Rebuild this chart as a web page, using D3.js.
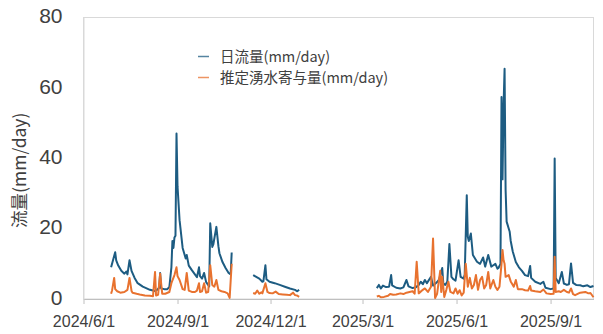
<!DOCTYPE html>
<html><head><meta charset="utf-8">
<script src="https://cdn.jsdelivr.net/npm/d3@7"></script>
<style>body{margin:0;background:#fff} svg{display:block}</style>
</head><body><svg id="c" width="603" height="334"></svg>
<script>
const flowDates = ["2024-06-28","2024-07-02","2024-07-03","2024-07-05","2024-07-08","2024-07-11","2024-07-13","2024-07-14","2024-07-16","2024-07-18","2024-07-21","2024-07-24","2024-07-29","2024-08-05","2024-08-10","2024-08-12","2024-08-14","2024-08-15","2024-08-16","2024-08-19","2024-08-22","2024-08-24","2024-08-26","2024-08-27","2024-08-28","2024-08-29","2024-08-30","2024-08-31","2024-09-01","2024-09-03","2024-09-06","2024-09-09","2024-09-10","2024-09-12","2024-09-15","2024-09-18","2024-09-20","2024-09-22","2024-09-23","2024-09-25","2024-09-27","2024-09-29","2024-10-02","2024-10-03","2024-10-05","2024-10-06","2024-10-09","2024-10-11","2024-10-12","2024-10-15","2024-10-18","2024-10-21","2024-10-23","2024-10-24","2024-10-25",
"2024-11-14","2024-11-17","2024-11-20","2024-11-23","2024-11-24","2024-11-26","2024-11-27","2024-11-30","2024-12-05","2024-12-10","2024-12-15","2024-12-20","2024-12-25","2024-12-27","2024-12-29","2024-12-30",
"2025-03-15","2025-03-17","2025-03-19","2025-03-21","2025-03-24","2025-03-27","2025-03-29","2025-03-30","2025-04-03","2025-04-07","2025-04-10","2025-04-13","2025-04-15","2025-04-19","2025-04-22","2025-04-25","2025-04-27","2025-04-29","2025-05-01","2025-05-03","2025-05-07","2025-05-09","2025-05-13","2025-05-15","2025-05-18","2025-05-19","2025-05-21","2025-05-23","2025-05-25","2025-05-27","2025-05-29","2025-05-31","2025-06-03","2025-06-05","2025-06-08","2025-06-09","2025-06-11","2025-06-12","2025-06-13","2025-06-15","2025-06-17","2025-06-21","2025-06-24","2025-06-27","2025-06-29","2025-07-02","2025-07-05","2025-07-07","2025-07-09","2025-07-11","2025-07-12","2025-07-14","2025-07-15","2025-07-16","2025-07-17","2025-07-18","2025-07-19","2025-07-20","2025-07-23","2025-07-24","2025-07-26","2025-07-29","2025-08-01","2025-08-04","2025-08-07","2025-08-10","2025-08-12","2025-08-13","2025-08-17","2025-08-22","2025-08-25","2025-08-27","2025-09-01","2025-09-04","2025-09-05","2025-09-06","2025-09-09","2025-09-12","2025-09-14","2025-09-17","2025-09-19","2025-09-21","2025-09-23","2025-09-26","2025-09-30","2025-10-03","2025-10-07","2025-10-10","2025-10-13"];
const flowValues = [9.0,13.3,11.0,9.5,8.0,7.2,7.8,7.0,11.0,8.0,6.0,4.5,3.5,2.6,2.3,2.6,3.2,7.4,3.0,2.8,2.8,3.4,9.0,16.5,14.5,17.5,18.0,47.0,32.0,22.4,14.5,11.5,12.5,9.5,8.2,7.0,6.2,9.0,6.5,5.8,7.4,4.8,3.6,21.5,14.8,15.5,20.5,15.0,13.0,10.5,8.8,7.4,7.0,13.2,null,
6.8,6.3,5.8,4.9,5.0,9.6,5.6,4.9,4.5,4.0,3.5,3.0,2.6,2.2,2.6,null,
3.1,4.0,3.0,3.8,3.4,3.5,6.8,3.9,3.2,3.0,3.3,5.4,3.6,3.1,3.3,4.0,4.9,4.2,5.4,4.5,6.3,3.8,4.8,5.6,8.8,4.5,4.0,5.0,15.6,6.3,5.6,5.2,11.0,6.3,5.8,7.0,29.5,17.7,16.5,18.6,12.5,10.6,10.0,11.8,9.2,12.5,9.2,9.6,10.0,8.6,8.8,10.0,57.4,34.0,55.0,65.4,31.0,22.0,19.1,16.5,13.5,10.5,9.0,8.0,6.8,6.5,9.4,6.0,4.9,4.3,4.9,3.2,2.8,3.0,39.9,6.0,4.5,7.7,4.4,4.0,4.2,10.1,4.6,4.0,3.9,3.6,3.9,3.4,3.7];

const springDates = ["2024-06-28","2024-06-29","2024-07-01","2024-07-02","2024-07-04","2024-07-07","2024-07-11","2024-07-14","2024-07-16","2024-07-18","2024-07-19","2024-07-23","2024-07-26","2024-07-31","2024-08-05","2024-08-08","2024-08-10","2024-08-11","2024-08-13","2024-08-15","2024-08-17","2024-08-20","2024-08-24","2024-08-26","2024-08-29","2024-08-31","2024-09-01","2024-09-03","2024-09-06","2024-09-08","2024-09-10","2024-09-12","2024-09-15","2024-09-18","2024-09-20","2024-09-22","2024-09-23","2024-09-25","2024-09-27","2024-09-29","2024-10-01","2024-10-03","2024-10-05","2024-10-07","2024-10-09","2024-10-11","2024-10-14","2024-10-17","2024-10-20","2024-10-22","2024-10-24","2024-10-25",
"2024-11-14","2024-11-16","2024-11-18","2024-11-20","2024-11-22","2024-11-23","2024-11-26","2024-11-28","2024-11-30","2024-12-03","2024-12-06","2024-12-09","2024-12-13","2024-12-17","2024-12-20","2024-12-23","2024-12-25","2024-12-27","2024-12-29","2024-12-30",
"2025-03-15","2025-03-17","2025-03-19","2025-03-22","2025-03-26","2025-03-28","2025-03-31","2025-04-03","2025-04-07","2025-04-10","2025-04-13","2025-04-16","2025-04-19","2025-04-21","2025-04-23","2025-04-25","2025-04-29","2025-05-01","2025-05-04","2025-05-07","2025-05-09","2025-05-11","2025-05-13","2025-05-16","2025-05-17","2025-05-18","2025-05-20","2025-05-22","2025-05-24","2025-05-26","2025-05-29","2025-05-31","2025-06-02","2025-06-04","2025-06-06","2025-06-08","2025-06-10","2025-06-12","2025-06-14","2025-06-16","2025-06-18","2025-06-20","2025-06-22","2025-06-24","2025-06-26","2025-06-28","2025-06-30","2025-07-02","2025-07-04","2025-07-07","2025-07-09","2025-07-11","2025-07-13","2025-07-15","2025-07-16","2025-07-17","2025-07-18","2025-07-19","2025-07-22","2025-07-24","2025-07-27","2025-07-29","2025-07-31","2025-08-04","2025-08-07","2025-08-10","2025-08-12","2025-08-13","2025-08-17","2025-08-22","2025-08-25","2025-08-28","2025-09-01","2025-09-04","2025-09-05","2025-09-06","2025-09-09","2025-09-11","2025-09-14","2025-09-17","2025-09-19","2025-09-21","2025-09-23","2025-09-25","2025-09-30","2025-10-05","2025-10-08","2025-10-10","2025-10-13"];
const springValues = [1.5,2.5,6.0,2.8,2.2,1.8,2.0,2.6,6.0,2.3,1.8,1.5,1.3,1.0,0.9,0.8,7.7,1.0,1.2,7.2,1.5,1.5,2.0,4.5,6.8,9.0,6.5,5.4,2.8,2.6,7.4,2.4,2.0,2.0,2.4,4.5,2.0,2.2,4.5,1.8,2.0,9.6,4.0,3.5,5.4,2.6,2.2,2.0,1.6,0.3,10.0,null,
1.7,1.5,2.4,1.5,1.9,1.6,4.5,2.0,1.7,1.6,2.1,1.4,1.3,1.2,1.1,1.8,1.1,1.0,0.6,null,
0.7,0.9,0.5,0.6,0.9,1.4,1.2,1.3,1.6,1.4,1.8,2.0,2.2,1.5,10.6,1.6,2.6,3.0,2.0,3.5,17.2,0.3,1.5,8.0,2.0,6.3,0.6,2.6,4.9,2.0,1.6,3.0,1.5,2.5,1.0,1.8,10.0,3.5,6.0,3.0,4.0,6.8,2.6,5.4,6.3,3.0,4.0,7.7,3.0,5.4,3.5,2.6,3.5,10.0,13.9,11.0,10.0,6.3,6.8,5.0,3.5,5.4,2.8,2.8,2.5,2.4,3.7,2.4,2.2,2.0,2.7,1.6,1.4,1.5,12.0,2.0,2.2,2.0,2.6,2.0,1.8,3.0,1.4,1.1,1.8,2.0,1.6,1.7,0.5];

const xDomain = ["2024-06-01","2025-10-13"];
const xTickDates = ["2024-06-01","2024-09-01","2024-12-01","2025-03-01","2025-06-01","2025-09-01"];
const xTickLabels = ["2024/6/1","2024/9/1","2024/12/1","2025/3/1","2025/6/1","2025/9/1"];
const yTicks = [0,20,40,60,80];
const yTitle = "流量(mm/day)";
const seriesNames = ["日流量(mm/day)","推定湧水寄与量(mm/day)"];
const seriesColors = ["#1d5c82","#e8722f"];

const parse = d3.timeParse("%Y-%m-%d");
const svg = d3.select("#c");
const L = 83.5, R = 593.5, T = 17.5, B = 299;
const font = "'Noto Sans CJK JP','Noto Sans',sans-serif";
const numFont = "'Liberation Sans',Arial,sans-serif";
const txt = "#404040";

const x = d3.scaleTime().domain(xDomain.map(parse)).range([L, R]);
const y = d3.scaleLinear().domain([0, 80]).range([B, T]);

svg.append("rect").attr("x", L).attr("y", T).attr("width", R - L).attr("height", B - T)
  .attr("fill", "none").attr("stroke", "#d9d9d9").attr("stroke-width", 1);

const xa = svg.append("g").attr("transform", `translate(0,${B})`)
  .call(d3.axisBottom(x).tickValues(xTickDates.map(parse))
    .tickFormat((d, i) => xTickLabels[i]).tickSizeInner(5).tickSizeOuter(0).tickPadding(12));
xa.select(".domain").attr("stroke", "#bfbfbf");
xa.selectAll(".tick line").attr("stroke", "#bfbfbf");
xa.selectAll("text").attr("font-family", numFont).attr("font-size", 16).attr("fill", txt);

const ya = svg.append("g").attr("transform", `translate(${L},0)`)
  .call(d3.axisLeft(y).tickValues(yTicks).tickSize(0).tickPadding(21));
ya.select(".domain").attr("stroke", "#d9d9d9");
ya.selectAll("text").attr("font-family", numFont).attr("font-size", 21).attr("fill", txt).attr("dy", "0.25em");

svg.append("text").attr("transform", `translate(26,${(T + B) / 2 + 12}) rotate(-90)`)
  .attr("text-anchor", "middle").attr("font-family", font).attr("font-size", 17.5).attr("fill", txt)
  .text(yTitle);

function series(dates, values) {
  return dates.map((d, i) => ({ date: parse(d), v: values[i] }));
}
const line = d3.line().defined(d => d.v != null).x(d => x(d.date)).y(d => y(d.v));

svg.append("path").datum(series(flowDates, flowValues)).attr("d", line)
  .attr("fill", "none").attr("stroke", seriesColors[0]).attr("stroke-width", 2).attr("stroke-linejoin", "round");
svg.append("path").datum(series(springDates, springValues)).attr("d", line)
  .attr("fill", "none").attr("stroke", seriesColors[1]).attr("stroke-width", 2).attr("stroke-linejoin", "round");

const lg = svg.append("g");
seriesNames.forEach((n, i) => {
  const yy = 56.5 + i * 21;
  lg.append("line").attr("x1", 198).attr("x2", 209).attr("y1", yy).attr("y2", yy)
    .attr("stroke", seriesColors[i]).attr("stroke-width", 1.5).attr("opacity", 0.75);
  lg.append("text").attr("x", 220).attr("y", yy).attr("dy", "0.35em")
    .attr("font-family", font).attr("font-size", 14.5).attr("fill", txt).text(n);
});
</script></body></html>
